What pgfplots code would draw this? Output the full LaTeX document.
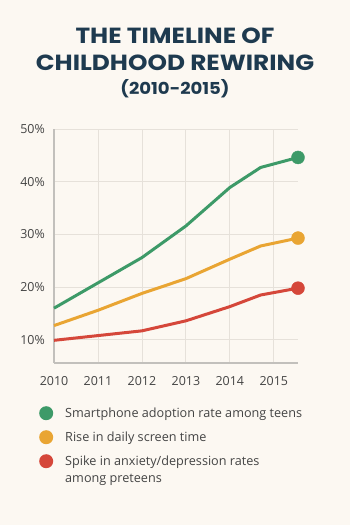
\documentclass[border=0pt]{standalone}
\usepackage{pgfplots}
\pgfplotsset{compat=1.18}
\usepackage{fontspec}
\setmainfont{Open Sans}
\newfontfamily\titlefont{Poppins}
\definecolor{bgc}{HTML}{FCF8F2}
\definecolor{titlec}{HTML}{1E3A4F}
\definecolor{cgreen}{HTML}{3D9A68}
\definecolor{corange}{HTML}{E9A533}
\definecolor{cred}{HTML}{D5473A}
\definecolor{txtc}{HTML}{444444}
\definecolor{gridc}{HTML}{E6E1DA}
\definecolor{spinec}{HTML}{C2C0BC}
\begin{document}
\begin{tikzpicture}[x=1bp,y=1bp]
\fill[bgc] (0,0) rectangle (350,525);
\path[use as bounding box] (0,0) rectangle (350,525);
\node[font=\titlefont\bfseries\fontsize{22}{24}\selectfont, text=titlec] at (175,489) {\scalebox{1.13}[1]{THE TIMELINE OF}};
\node[font=\titlefont\bfseries\fontsize{22}{24}\selectfont, text=titlec] at (175,462) {\scalebox{1.13}[1]{CHILDHOOD REWIRING}};
\node[font=\titlefont\bfseries\fontsize{16.5}{18}\selectfont, text=titlec] at (175,436) {\scalebox{1.1}[1]{(2010-2015)}};
\begin{axis}[
  at={(54bp,162bp)}, anchor=south west,
  scale only axis, width=244bp, height=234bp,
  xmin=2010, xmax=2015.55, ymin=5.6, ymax=50,
  axis x line*=bottom, axis y line*=left,
  axis line style={spinec, line width=1.2bp},
  grid=major, major grid style={gridc, line width=0.8bp},
  xtick={2010,2011,2012,2013,2014,2015},
  ytick={10,20,30,40,50},
  major tick length=0pt,
  /pgf/number format/assume math mode=true,
  xticklabel style={/pgf/number format/1000 sep={}, font=\fontsize{12.5}{14}\selectfont, text=txtc, inner sep=0pt, anchor=north, yshift=-13bp},
  yticklabel={\pgfmathprintnumber{\tick}\%},
  yticklabel style={font=\fontsize{12.5}{14}\selectfont, text=txtc, inner sep=0pt, anchor=east, xshift=-9bp},
  clip=false,
  legend style={draw=none, fill=none, at={(-0.0615,-0.1838)}, anchor=north west,
    inner sep=0pt, row sep=10bp, column sep=12bp,
    font=\fontsize{12.7}{15}\selectfont, text=txtc, nodes={inner sep=0pt}},
  legend cell align=left,
  legend image code/.code={\fill[#1,draw=none] (7bp,0) circle (7bp);},
]
\addplot[cgreen, line width=3bp, line join=round] coordinates {(2010,16.0) (2011,20.8) (2012,25.6) (2013,31.6) (2014,38.9) (2014.7,42.7) (2015.55,44.6)};
\addlegendentry{Smartphone adoption rate among teens}
\addplot[corange, line width=3bp, line join=round] coordinates {(2010,12.7) (2011,15.6) (2012,18.8) (2013,21.6) (2014,25.3) (2014.7,27.8) (2015.55,29.3)};
\addlegendentry{Rise in daily screen time}
\addplot[cred, line width=3bp, line join=round] coordinates {(2010,9.9) (2011,10.8) (2012,11.7) (2013,13.6) (2014,16.3) (2014.7,18.5) (2015.55,19.8)};
\addlegendentry{Spike in anxiety/depression rates}
\addplot[only marks, mark=*, mark size=6.5bp, cgreen, forget plot] coordinates {(2015.55,44.6)};
\addplot[only marks, mark=*, mark size=6.5bp, corange, forget plot] coordinates {(2015.55,29.3)};
\addplot[only marks, mark=*, mark size=6.5bp, cred, forget plot] coordinates {(2015.55,19.8)};
\end{axis}
\node[anchor=base west, inner sep=0pt, font=\fontsize{12.7}{15}\selectfont, text=txtc] at (65,42) {among preteens};
\end{tikzpicture}
\end{document}
